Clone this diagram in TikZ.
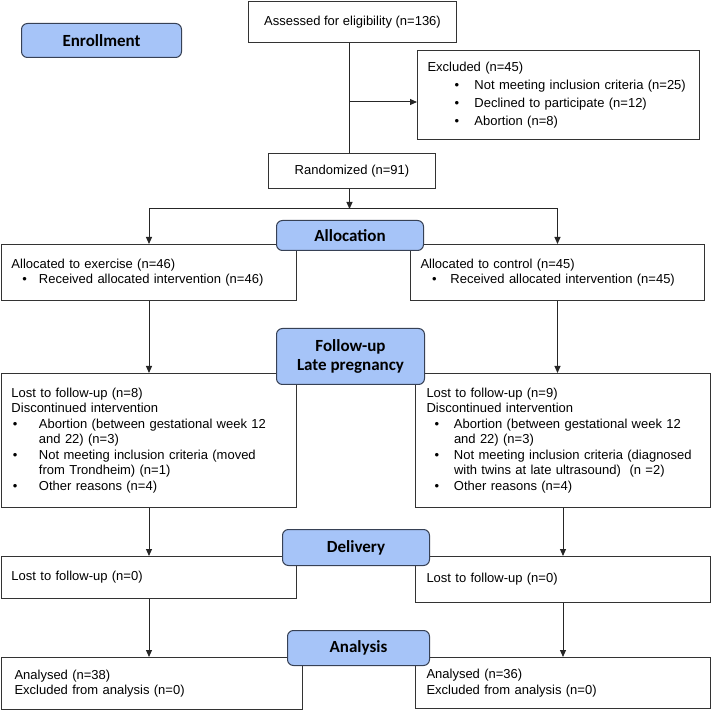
\documentclass[tikz,border=0pt]{standalone}
\usepackage{fontspec}
\setmainfont{Liberation Sans}
\newfontfamily\hdrfont{Carlito}
\usetikzlibrary{arrows.meta}

\definecolor{hdrblue}{RGB}{166,196,248}
\definecolor{hdrline}{RGB}{55,65,85}

% bullet item: bullet offset, text offset
\newcommand{\itm}[2]{\makebox[#2][l]{\hspace*{#1}\textbullet}}
\newcommand{\itmcont}[1]{\hspace*{#1}}

\tikzset{
  box/.style={draw=black!80, line width=1pt, anchor=north west, align=left,
    inner xsep=10pt, inner ysep=0pt, font={\fontsize{13}{15.5}\selectfont}},
  hdr/.style={draw=hdrline, fill=hdrblue, line width=1pt, rounded corners=6pt,
    anchor=north west, align=center, inner sep=0pt,
    font={\hdrfont\bfseries\fontsize{17}{19}\selectfont}},
  flow/.style={-{Triangle[length=7pt,width=6pt]}, line width=1pt, draw=black!85}
}

\begin{document}
\begin{tikzpicture}[x=1pt,y=-1pt]
  \useasboundingbox (0,0) rectangle (713,711);

  % boites
  \node[box, align=center, minimum width=208pt, minimum height=41pt] (assess) at (248,1)
    {Assessed for eligibility (n=136)};
  \node[box, text width=262pt, minimum height=89pt] (excl) at (417,50)
    {Excluded (n=45)\\[2.5pt]
     \itm{27pt}{47pt}Not meeting inclusion criteria (n=25)\\[2.5pt]
     \itm{27pt}{47pt}Declined to participate (n=12)\\[2.5pt]
     \itm{27pt}{47pt}Abortion (n=8)};
  \node[box, align=center, minimum width=167pt, minimum height=35pt] (rand) at (268,153)
    {Randomized (n=91)};

  \node[box, text width=275pt, minimum height=56pt] (alocL) at (1,244)
    {Allocated to exercise (n=46)\\
     \itm{11pt}{27.5pt}Received allocated intervention (n=46)};
  \node[box, text width=274pt, minimum height=56pt] (alocR) at (410,244)
    {Allocated to control (n=45)\\
     \itm{11.5pt}{30pt}Received allocated intervention (n=45)};

  \node[box, text width=275pt, minimum height=134pt] (fuL) at (1,373)
    {Lost to follow-up (n=8)\\
     Discontinued intervention\\
     \itm{1.5pt}{27.5pt}Abortion (between gestational week 12\\
     \itmcont{27.5pt}and 22) (n=3)\\
     \itm{1.5pt}{27.5pt}Not meeting inclusion criteria (moved\\
     \itmcont{27.5pt}from Trondheim) (n=1)\\
     \itm{1.5pt}{27.5pt}Other reasons (n=4)};
  \node[box, inner xsep=11pt, text width=273pt, minimum height=134pt] (fuR) at (415,373)
    {Lost to follow-up (n=9)\\
     Discontinued intervention\\
     \itm{8pt}{27.5pt}Abortion (between gestational week 12\\
     \itmcont{27.5pt}and 22) (n=3)\\
     \itm{8pt}{27.5pt}Not meeting inclusion criteria (diagnosed\\
     \itmcont{27.5pt}with twins at late ultrasound)\ \ (n =2)\\
     \itm{8pt}{27.5pt}Other reasons (n=4)};

  \node[box, text width=275pt, minimum height=42pt] (delL) at (1,556)
    {Lost to follow-up (n=0)};
  \node[box, inner xsep=11pt, text width=273pt, minimum height=46pt] (delR) at (415,556)
    {Lost to follow-up (n=0)};

  \node[box, inner xsep=13pt, text width=275pt, minimum height=52pt] (anaL) at (1,657)
    {Analysed (n=38)\\Excluded from analysis (n=0)};
  \node[box, inner xsep=11pt, text width=273pt, minimum height=51pt] (anaR) at (415,657)
    {Analysed (n=36)\\Excluded from analysis (n=0)};

  % fleches
  \path (assess.south) ++(-3,0) coordinate (trunk);
  \path (trunk) ++(0,59) coordinate (exclfork);
  \path (trunk |- rand.south) ++(0,20) coordinate (split);
  \draw[line width=1pt, black!85] (trunk) -- (trunk |- rand.north);
  \draw[flow] (exclfork) -- (exclfork -| excl.west);
  \draw[flow] (trunk |- rand.south) -- (split);
  \draw[flow] (split) -| (alocL.north);
  \draw[flow] (split) -| (alocR.north);
  \draw[flow] (alocL.south) -- (fuL.north);
  \draw[flow] (alocR.south) -- (alocR.south |- fuR.north);
  \draw[flow] (fuL.south) -- (delL.north);
  \draw[flow] (fuR.south) -- (delR.north);
  \draw[flow] (delL.south) -- (delL.south |- anaL.north);
  \draw[flow] (delR.south) -- (anaR.north);

  % etapes
  \node[hdr, minimum width=160pt, minimum height=34pt] (enroll) at (21,23) {Enrollment};
  \node[hdr, minimum width=147pt, minimum height=30pt] (alloc) at (276,220) {Allocation};
  \node[hdr, minimum width=148pt, minimum height=56pt] (follow) at (276,328) {Follow-up\\Late pregnancy};
  \node[hdr, minimum width=147pt, minimum height=36pt] (deliv) at (282,529) {Delivery};
  \node[hdr, minimum width=142pt, minimum height=35pt] (anal) at (287,630) {Analysis};
\end{tikzpicture}
\end{document}
